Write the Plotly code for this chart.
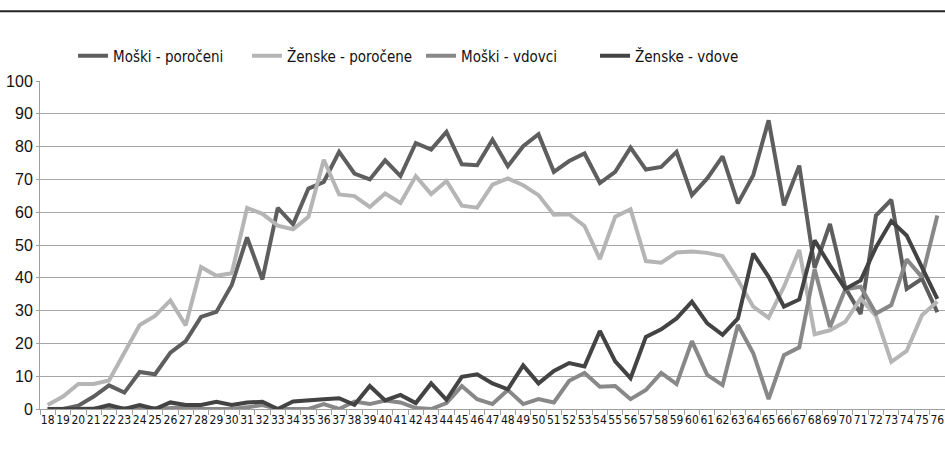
import plotly.graph_objects as go

ages = [str(a) for a in range(18, 77)]

moski_poroceni = [0, 0, 1, 3.8, 7.2, 5, 11.3, 10.6, 17.2, 20.7,
                  28.1, 29.6, 37.8, 52.3, 39.5, 61.3, 56.3, 67.2, 69.2, 78.4,
                  71.8, 70, 75.8, 71, 81.1, 79.1, 84.5, 74.6, 74.3, 82.1,
                  74, 80.1, 83.8, 72.3, 75.6, 77.9, 68.9, 72.3, 79.7, 73,
                  73.8, 78.4, 65.2, 70.3, 77, 62.7, 71.3, 88, 62.1, 74.2,
                  43, 56.4, 37, 29, 59, 63.8, 36.6, 39.7, 29.5]

zenske_porocene = [1.2, 3.8, 7.6, 7.6, 8.7, 17.2, 25.6, 28.4, 33.1, 25.5,
                   43.3, 40.6, 41.4, 61.3, 59.5, 55.9, 54.8, 58.6, 76, 65.4,
                   64.9, 61.6, 65.7, 62.8, 71, 65.5, 69.5, 62, 61.4, 68.4,
                   70.3, 68.2, 65.2, 59.2, 59.4, 55.8, 45.7, 58.6, 60.9, 45.1,
                   44.6, 47.7, 48, 47.6, 46.6, 39.3, 31.2, 27.8, 37.3, 48.5,
                   22.8, 24, 26.6, 33.7, 28.4, 14.4, 17.7, 28.6, 32.8]

moski_vdovci = [0, 0, 0, 0, 0, 0, 0, 0, 0.3, 0.5,
                0, 0, 0, 0.5, 1.2, 0, 0, 0, 1.5, 0,
                2.3, 1.5, 2.6, 2, 0.3, 0, 1.8, 7, 3, 1.5,
                5.8, 1.5, 3, 2, 8.6, 11, 6.8, 7, 3, 5.8,
                11, 7.6, 20.7, 10.4, 7.3, 25.6, 17, 3, 16.4, 18.8,
                42.6, 25, 36.5, 37.3, 29.1, 31.7, 45.6, 40.2, 59]

zenske_vdove = [0, 0, 0, 0, 1.2, 0, 1.2, 0, 2, 1.2,
                1.2, 2.2, 1.2, 2, 2.2, 0, 2.3, 2.5, 3, 3.3,
                1.3, 7, 2.6, 4.3, 1.8, 7.8, 2.8, 9.8, 10.6, 7.8,
                6, 13.3, 7.8, 11.6, 14, 13, 23.8, 14.5, 9.4, 22,
                24.3, 27.6, 32.7, 26.1, 22.6, 27.6, 47.4, 40.3, 31.2, 33.4,
                51.4, 43.8, 36.6, 39.2, 49.3, 57.3, 52.9, 43.2, 33.6]

series = [
    ("Moški - poročeni", moski_poroceni, "#5e5e5e"),
    ("Ženske - poročene", zenske_porocene, "#b5b5b5"),
    ("Moški - vdovci", moski_vdovci, "#888888"),
    ("Ženske - vdove", zenske_vdove, "#434343"),
]

NARROW = "DejaVu Sans Condensed, Liberation Sans Narrow, Arial Narrow, sans-serif"

fig = go.Figure()
for name, vals, color in series:
    fig.add_trace(go.Scatter(
        x=ages, y=vals, mode="lines", name=name,
        line=dict(color=color, width=4)
    ))

# thin rule across the top of the figure
fig.add_shape(type="line", xref="paper", yref="paper",
              x0=-0.05, x1=1.0, y0=1.213, y1=1.213,
              line=dict(color="#222222", width=2))

fig.update_layout(
    width=945, height=463,
    margin=dict(l=40, r=0, t=81, b=54),
    paper_bgcolor="white", plot_bgcolor="white",
    font=dict(family=NARROW, color="#111111"),
    showlegend=True,
    legend=dict(orientation="h", x=0.0365, y=1.076, xanchor="left", yanchor="middle",
                font=dict(size=15, family=NARROW), itemwidth=30,
                entrywidth=129, entrywidthmode="pixels", traceorder="normal"),
)
fig.update_xaxes(
    type="category", tickson="boundaries", showgrid=False,
    showline=True, linecolor="#a0a0a0", linewidth=1,
    ticks="outside", ticklen=5, tickcolor="#a0a0a0",
    tickmode="linear", dtick=1, tickangle=0,
    tickfont=dict(size=12, family=NARROW),
    range=[-0.5, 58.5]
)
fig.update_yaxes(
    range=[0, 100], dtick=10, showgrid=True, gridcolor="#a6a6a6", gridwidth=1,
    showline=True, linecolor="#a0a0a0", ticks="outside", ticklen=3, tickcolor="#a0a0a0",
    tickfont=dict(size=16, family="Liberation Sans, Arial, sans-serif"),
    zeroline=False
)

# page body has a default 8px margin; drop it so the figure fills the window
fig.write_html("out.html", config={"displayModeBar": False},
               post_script="document.body.style.margin='0';")
